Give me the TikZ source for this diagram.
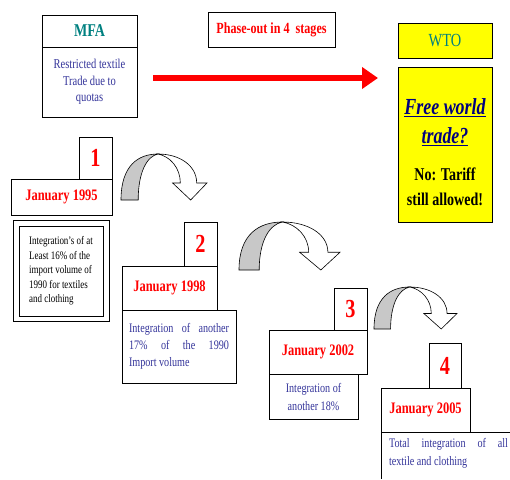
\documentclass[tikz,border=0pt]{standalone}
\usepackage{fontspec}
\setmainfont{Liberation Serif}[FakeStretch=0.78]
\newcommand\fatul[1]{\leavevmode\vtop{\hbox{#1}\kern1.5pt\hrule height 1.2pt}}
\usetikzlibrary{arrows.meta,positioning}

\definecolor{mfateal}{RGB}{0,128,128}
\definecolor{txtblue}{RGB}{51,51,153}
\definecolor{navyblue}{RGB}{0,0,128}
\definecolor{wtoyellow}{RGB}{255,255,0}
\definecolor{bandgray}{RGB}{200,200,200}

\begin{document}
\begin{tikzpicture}[
  x=1pt, y=-1pt,
  box/.style={draw, line width=0.6pt, inner sep=0pt, outer sep=0pt},
  edge/.style={line width=0.6pt},
  hdr/.style={box, font=\fontsize{18}{20}\selectfont\bfseries, text=mfateal},
  numbox/.style={box, font=\fontsize{26}{28}\selectfont\bfseries, text=red},
  datebox/.style={box, font=\fontsize{16}{18}\selectfont\bfseries, text=red},
  note/.style={box, font=\fontsize{13}{17}\selectfont, text=txtblue},
  yellowbox/.style={box, fill=wtoyellow},
  band/.style={draw, line width=0.6pt},
  phasearrow/.style={-{Triangle[length=16pt,width=21pt]}, line width=6pt, red},
  bendarrow/.pic={
    \filldraw[band, fill=bandgray] (0,0) .. controls (0,0.75) and (0.2,1) .. (0.43,1)
      .. controls (0.3,0.95) and (0.2,0.6) .. (0.2,0) -- cycle;
    \filldraw[band, fill=white] (0.43,1) .. controls (0.68,1) and (0.88,0.75) .. (0.88,0.37)
      -- (1,0.37) -- (0.81,0) -- (0.6,0.37) -- (0.69,0.37)
      .. controls (0.69,0.7) and (0.57,0.95) .. (0.43,1) -- cycle;
  }
]
\useasboundingbox (0,0) rectangle (510,479);

% MFA and WTO at the top
\node[hdr, anchor=north west, minimum width=95pt, minimum height=32pt] (mfa) at (42,15) {MFA};
\node[note, below=0pt of mfa, minimum width=95pt, minimum height=70pt, align=center,
  font=\fontsize{13.5}{16.5}\selectfont] (mfab) {Restricted textile\\Trade due to\\quotas};

\node[box, anchor=north west, minimum width=127pt, minimum height=35pt, text=red,
  font=\fontsize{15.5}{18}\selectfont\bfseries] (phase) at (208,12) {Phase-out in 4~ stages};

\node[yellowbox, anchor=north west, minimum width=94pt, minimum height=35pt, text=mfateal,
  font=\fontsize{18.5}{20}\selectfont] (wto) at (398,23) {WTO};
\node[yellowbox, anchor=north west, minimum width=94pt, minimum height=155pt] (wtob) at (398,67) {};
\node[inner sep=0pt, below=31pt of wtob.north, align=center, text=navyblue,
  font=\fontsize{23}{29}\selectfont\bfseries\itshape] (free) {\fatul{Free world}\\\fatul{trade?}};
\node[inner sep=0pt, below=101pt of wtob.north, align=center,
  font=\fontsize{18}{25}\selectfont\bfseries] (tariff) {No: Tariff\\still allowed!};

\draw[phasearrow] ([xshift=16pt,yshift=4pt]mfab.east) -- ([xshift=-20pt,yshift=4pt]mfab.east -| wtob.west);

% Stage 1
\node[datebox, anchor=north west, minimum width=101pt, minimum height=36pt] (d1) at (11,179) {January 1995};
\node[numbox, above left=0pt and 0pt of d1.north east, minimum width=33pt, minimum height=42pt] (n1) {1};
\node[box, below right=11pt and 8pt of d1.south west, minimum width=84pt, minimum height=90pt,
  align=left, text=black, font=\fontsize{11.5}{14.5}\selectfont] (t1)
  {Integration’s of at\\Least 16\% of the\\import volume of\\1990 for textiles\\and clothing};
\draw[edge] ([shift={(-6pt,6pt)}]t1.north west) rectangle ([shift={(6pt,-5pt)}]t1.south east);

% Stage 2
\node[datebox, anchor=north west, minimum width=95pt, minimum height=44pt] (d2) at (122,266) {January 1998};
\node[numbox, above left=0pt and 0pt of d2.north east, minimum width=33pt, minimum height=44pt] (n2) {2};
\node[note, below right=0pt and 0pt of d2.south west, minimum width=114pt, minimum height=73pt,
  text width=100pt, align=justify, inner xsep=7pt] (t2)
  {Integration of another\linebreak 17\% of the 1990\linebreak Import volume};

% Stage 3
\node[datebox, anchor=north west, minimum width=98pt, minimum height=44pt] (d3) at (269,330) {January 2002};
\node[numbox, above left=0pt and 0pt of d3.north east, minimum width=33pt, minimum height=42pt] (n3) {3};
\node[note, below right=0pt and 0pt of d3.south west, minimum width=89pt, minimum height=45pt,
  align=center, font=\fontsize{13}{18}\selectfont] (t3) {Integration of\\another 18\%};

% Stage 4 (box runs off the page)
\node[datebox, anchor=north west, minimum width=89pt, minimum height=44pt] (d4) at (381,388) {January 2005};
\node[numbox, anchor=south west, minimum width=32pt, minimum height=45pt] (n4) at ([xshift=48pt]d4.north west) {4};
\node[note, draw=none, below right=0pt and 0pt of d4.south west, text width=119pt, align=justify,
  inner xsep=8pt, inner ysep=6pt, font=\fontsize{13}{18}\selectfont] (t4)
  {Total integration of all\linebreak textile and clothing};
\draw[edge] (d4.south west) -- ++(0,47) (d4.south west) -- ++(129,0);

% bent arrows between stages
\pic[xscale=86, yscale=-46] (b1) at (121,200) {bendarrow};
\pic[xscale=101, yscale=-48] (b2) at (239,270) {bendarrow};
\pic[xscale=83, yscale=-42] (b3) at (374,329) {bendarrow};

\end{tikzpicture}
\end{document}
